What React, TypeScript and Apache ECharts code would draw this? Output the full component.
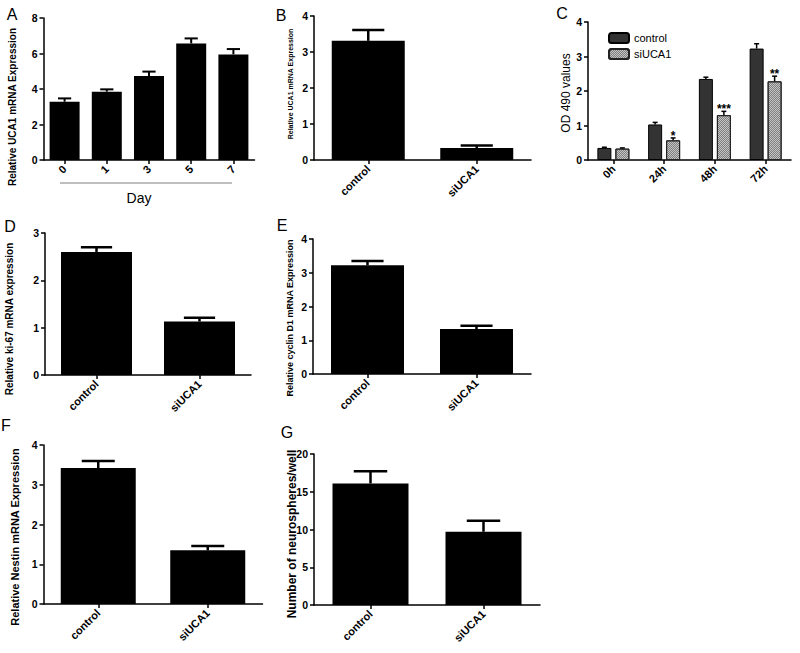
import React, { useEffect, useRef } from "react";
import * as echarts from "echarts";

// ---------- Data ----------
const daysA = ["0", "1", "3", "5", "7"];
const meanA = [3.28, 3.85, 4.73, 6.57, 5.95];
const semA = [0.19, 0.13, 0.25, 0.28, 0.3];

const groups = ["control", "siUCA1"];
const meanB = [3.31, 0.33];
const semB = [0.3, 0.07];

const timesC = ["0h", "24h", "48h", "72h"];
const controlC = [0.35, 1.03, 2.35, 3.23];
const semControlC = [0.02, 0.06, 0.05, 0.14];
const siC = [0.33, 0.57, 1.3, 2.28];
const semSiC = [0.02, 0.07, 0.11, 0.15];
const sigC = ["", "*", "***", "**"];

const meanD = [2.6, 1.13];
const semD = [0.1, 0.08];
const meanE = [3.22, 1.33];
const semE = [0.13, 0.1];
const meanF = [3.42, 1.35];
const semF = [0.18, 0.11];
const meanG = [16.1, 9.7];
const semG = [1.6, 1.45];

const FONT = 'Arial, "Liberation Sans", Helvetica, sans-serif';

type Panel = {
  id: string;
  left: number; top: number; width: number; height: number;
  cats: string[]; mean: number[]; sem: number[];
  max: number; interval: number; barWidth: number; lw: number;
  title: string; titleX: number; titleY: number; titleSize: number;
  letterX: number; letterY: number;
};

const panels: Panel[] = [
  { id: "A", left: 43.5, top: 18, width: 211, height: 142, cats: daysA, mean: meanA, sem: semA, max: 8, interval: 2, barWidth: 30, lw: 2,
    title: "Relative UCA1 mRNA Expression", titleX: 12, titleY: 107, titleSize: 10, letterX: 12, letterY: 14 },
  { id: "B", left: 314, top: 16, width: 217, height: 144, cats: groups, mean: meanB, sem: semB, max: 4, interval: 1, barWidth: 73, lw: 2.5,
    title: "Relative UCA1 mRNA Expression", titleX: 290, titleY: 84, titleSize: 7, letterX: 281, letterY: 15 },
  { id: "D", left: 45, top: 233, width: 206, height: 142, cats: groups, mean: meanD, sem: semD, max: 3, interval: 1, barWidth: 71, lw: 2.5,
    title: "Relative ki-67 mRNA expression", titleX: 9, titleY: 319, titleSize: 10, letterX: 10, letterY: 226 },
  { id: "E", left: 313, top: 239, width: 218, height: 135, cats: groups, mean: meanE, sem: semE, max: 4, interval: 1, barWidth: 73, lw: 2.5,
    title: "Relative cyclin D1 mRNA Expression", titleX: 290, titleY: 318, titleSize: 9, letterX: 282, letterY: 225 },
  { id: "F", left: 43.5, top: 445, width: 219, height: 159, cats: groups, mean: meanF, sem: semF, max: 4, interval: 1, barWidth: 75, lw: 2.5,
    title: "Relative Nestin mRNA Expression", titleX: 15, titleY: 537, titleSize: 11, letterX: 6, letterY: 425 },
  { id: "G", left: 314, top: 454, width: 226, height: 151, cats: groups, mean: meanG, sem: semG, max: 20, interval: 5, barWidth: 76, lw: 2.5,
    title: "Number of neurospheres/well", titleX: 292, titleY: 534, titleSize: 12, letterX: 287, letterY: 432 },
];

const C = { left: 588, top: 22, width: 203, height: 138, max: 4, interval: 1, barWidth: 14, gap: 4 };

function errSeries(gi: number, mean: number[], sem: number[], capHalf: number, lw: number, offset: number, labels?: string[]) {
  return {
    type: "custom",
    xAxisIndex: gi,
    yAxisIndex: gi,
    z: 5,
    silent: true,
    encode: { x: 0, y: [1, 2] },
    data: mean.map((m, i) => [i, m, m + sem[i]]),
    renderItem: (params: any, api: any) => {
      const x = api.value(0);
      const m = api.value(1);
      const t = api.value(2);
      const pm = api.coord([x, m]);
      const pt = api.coord([x, t]);
      const cx = pm[0] + offset;
      const children: any[] = [
        { type: "line", shape: { x1: cx, y1: pm[1], x2: cx, y2: pt[1] }, style: { stroke: "#000", lineWidth: lw } },
        { type: "line", shape: { x1: cx - capHalf, y1: pt[1], x2: cx + capHalf, y2: pt[1] }, style: { stroke: "#000", lineWidth: lw } },
      ];
      const lab = labels ? labels[params.dataIndex] : "";
      if (lab) {
        children.push({
          type: "text",
          x: cx,
          y: pt[1] - 2,
          style: { text: lab, fill: "#000", font: `bold 12px ${FONT}`, align: "center", verticalAlign: "middle", textAlign: "center", textVerticalAlign: "middle" },
        });
      }
      return { type: "group", children };
    },
  };
}

function axisCommon() {
  return {
    axisLine: { show: true, lineStyle: { color: "#000", width: 1.5 } },
    axisTick: { show: true, length: 4, lineStyle: { color: "#000", width: 1.5 } },
    splitLine: { show: false },
  };
}

const xLabel = { rotate: 45, margin: 7, fontSize: 11, fontWeight: "bold", fontFamily: FONT, color: "#000" };
const yLabel = { margin: 6, fontSize: 10.5, fontWeight: "bold", fontFamily: FONT, color: "#000" };

export default function App() {
  const ref = useRef<HTMLDivElement>(null);
  useEffect(() => {
    if (!ref.current) return;
    const chart = echarts.init(ref.current, undefined, { renderer: "svg" });
    const grids: any[] = [];
    const xAxes: any[] = [];
    const yAxes: any[] = [];
    const series: any[] = [];
    const graphics: any[] = [];

    panels.forEach((p, gi) => {
      grids.push({ left: p.left, top: p.top, width: p.width, height: p.height, containLabel: false });
      xAxes.push({
        type: "category", gridIndex: gi, data: p.cats, ...axisCommon(),
        axisTick: { show: true, length: 4, alignWithLabel: true, lineStyle: { color: "#000", width: 1.5 } },
        axisLabel: xLabel,
      });
      yAxes.push({
        type: "value", gridIndex: gi, min: 0, max: p.max, interval: p.interval, ...axisCommon(),
        axisLabel: yLabel,
      });
      series.push({
        type: "bar", name: "panel" + p.id, xAxisIndex: gi, yAxisIndex: gi, barWidth: p.barWidth,
        itemStyle: { color: "#000" }, data: p.mean,
      });
      series.push(errSeries(gi, p.mean, p.sem, p.barWidth * 0.22, p.lw, 0));
      graphics.push({
        type: "text", x: p.titleX, y: p.titleY, rotation: Math.PI / 2,
        style: { text: p.title, fill: "#000", font: `bold ${p.titleSize}px ${FONT}`, align: "center", verticalAlign: "middle", textAlign: "center", textVerticalAlign: "middle" },
      });
      graphics.push({
        type: "text", x: p.letterX, y: p.letterY,
        style: { text: p.id, fill: "#000", font: `16px ${FONT}`, align: "center", verticalAlign: "middle", textAlign: "center", textVerticalAlign: "middle" },
      });
    });

    // Panel C
    const gC = grids.length;
    grids.push({ left: C.left, top: C.top, width: C.width, height: C.height, containLabel: false });
    xAxes.push({
      type: "category", gridIndex: gC, data: timesC, ...axisCommon(),
      axisTick: { show: true, length: 4, alignWithLabel: true, lineStyle: { color: "#000", width: 1.5 } },
      axisLabel: xLabel,
    });
    yAxes.push({
      type: "value", gridIndex: gC, min: 0, max: C.max, interval: C.interval, ...axisCommon(),
      axisLabel: yLabel,
    });
    const barGap = (C.gap / C.barWidth) * 100 + "%";
    series.push({
      type: "bar", name: "control", xAxisIndex: gC, yAxisIndex: gC, barWidth: C.barWidth, barGap,
      itemStyle: { color: "#333", borderColor: "#000", borderWidth: 1 }, data: controlC,
    });
    series.push({
      type: "bar", name: "siUCA1", xAxisIndex: gC, yAxisIndex: gC, barWidth: C.barWidth, barGap,
      itemStyle: {
        color: "#c4c4c4", borderColor: "#222", borderWidth: 1,
        decal: { symbol: "rect", symbolSize: 1, dashArrayX: [[1, 1], [0, 1, 1, 0]], dashArrayY: [1, 0], color: "rgba(70,70,70,0.55)" },
      },
      data: siC,
    });
    const off = (C.barWidth + C.gap) / 2;
    series.push(errSeries(gC, controlC, semControlC, 2.5, 1.5, -off));
    series.push(errSeries(gC, siC, semSiC, 2.5, 1.5, off, sigC));
    graphics.push({
      type: "text", x: 566, y: 93, rotation: Math.PI / 2,
      style: { text: "OD 490 values", fill: "#000", font: `12px ${FONT}`, align: "center", verticalAlign: "middle", textAlign: "center", textVerticalAlign: "middle" },
    });
    graphics.push({
      type: "text", x: 562, y: 13,
      style: { text: "C", fill: "#000", font: `16px ${FONT}`, align: "center", verticalAlign: "middle", textAlign: "center", textVerticalAlign: "middle" },
    });
    // Day bracket for A
    graphics.push({ type: "line", shape: { x1: 60, y1: 183, x2: 232, y2: 183 }, style: { stroke: "#aaa", lineWidth: 1.5 } });
    graphics.push({
      type: "text", x: 139, y: 198,
      style: { text: "Day", fill: "#000", font: `14px ${FONT}`, align: "center", verticalAlign: "middle", textAlign: "center", textVerticalAlign: "middle" },
    });

    chart.setOption({
      animation: false,
      backgroundColor: "#fff",
      textStyle: { fontFamily: FONT },
      legend: {
        data: ["control", "siUCA1"], orient: "vertical", left: 603, top: 27,
        itemWidth: 20, itemHeight: 10, itemGap: 4, icon: "roundRect",
        textStyle: { fontSize: 11, fontFamily: FONT, color: "#000" },
      },
      grid: grids,
      xAxis: xAxes,
      yAxis: yAxes,
      series,
      graphic: graphics,
    });
    return () => chart.dispose();
  }, []);
  return <div ref={ref} style={{ position: "absolute", left: 0, top: 0, width: 800, height: 653 }} />;
}
